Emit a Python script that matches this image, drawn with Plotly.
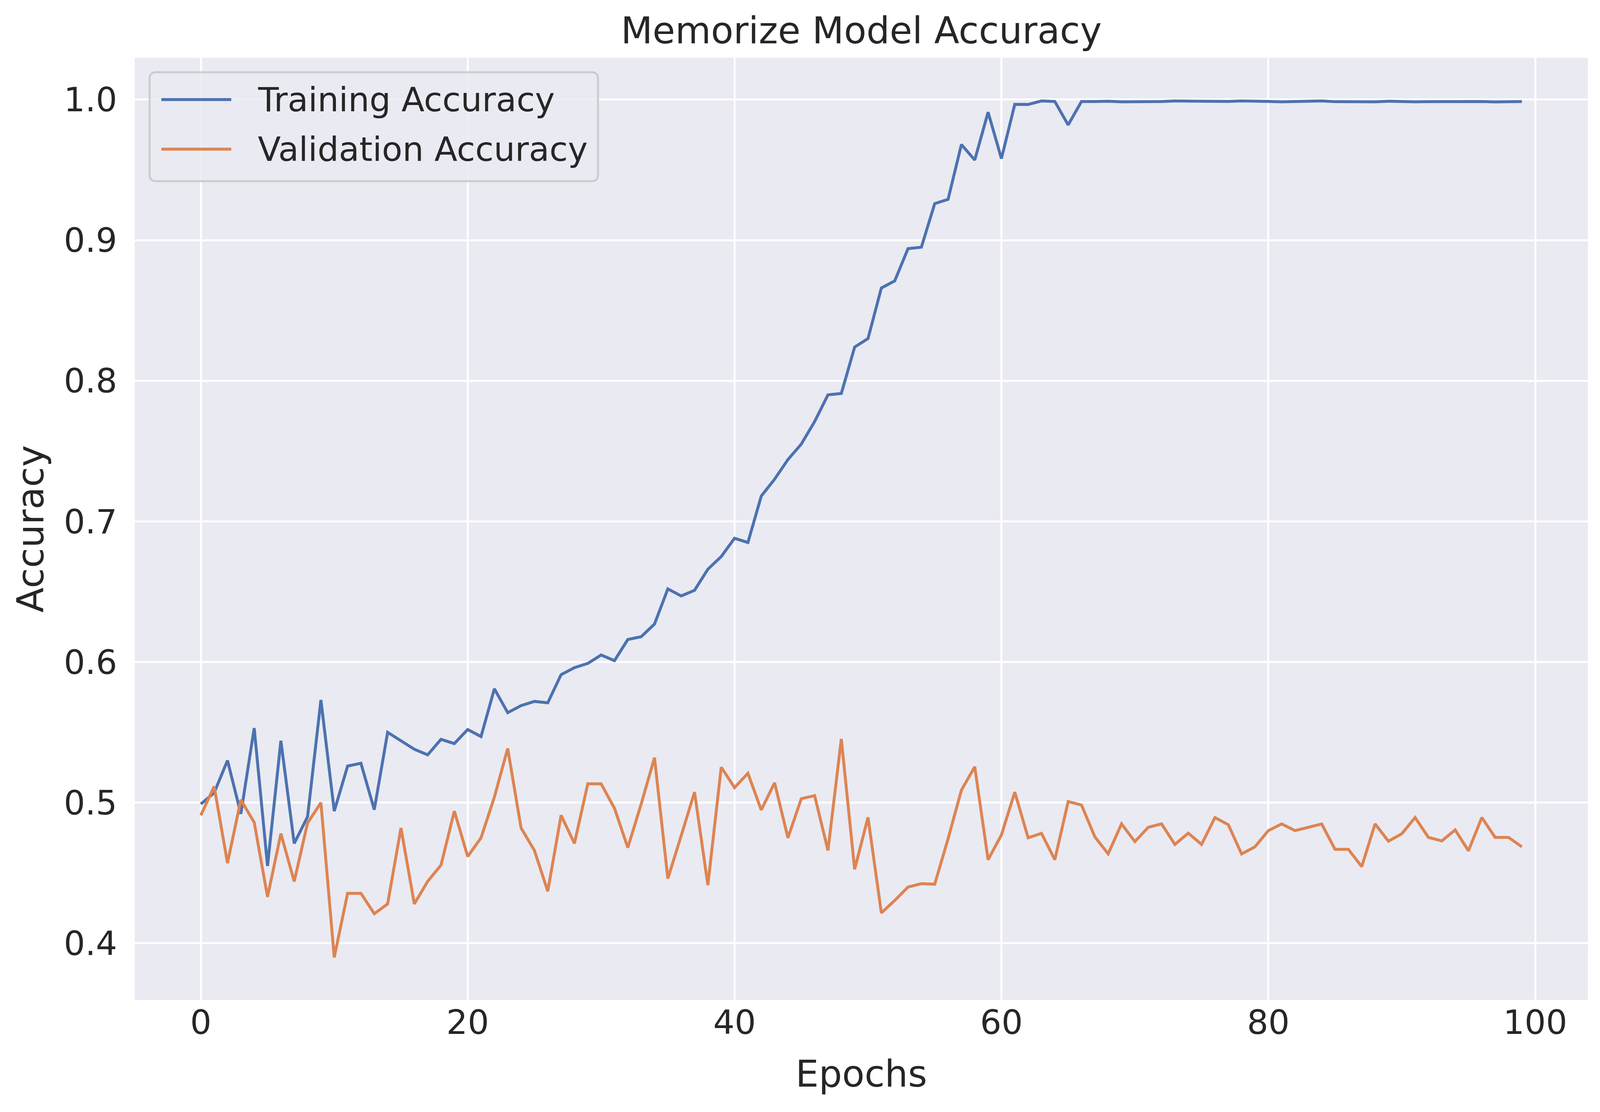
import plotly.graph_objects as go

# accuracy per epoch
epochs = list(range(100))

train_acc = [
    0.499, 0.507, 0.530, 0.492, 0.553, 0.455, 0.544, 0.471, 0.490, 0.573,
    0.494, 0.526, 0.528, 0.495, 0.550, 0.544, 0.538, 0.534, 0.545, 0.542,
    0.552, 0.547, 0.581, 0.564, 0.569, 0.572, 0.571, 0.591, 0.596, 0.599,
    0.605, 0.601, 0.616, 0.618, 0.627, 0.652, 0.647, 0.651, 0.666, 0.675,
    0.688, 0.685, 0.718, 0.730, 0.744, 0.755, 0.771, 0.790, 0.791, 0.824,
    0.830, 0.866, 0.871, 0.894, 0.895, 0.926, 0.929, 0.968, 0.957, 0.991,
    0.958, 0.9966, 0.9965, 0.9990, 0.9986, 0.982, 0.9986, 0.9986, 0.9988, 0.9984,
    0.9984, 0.9984, 0.9986, 0.9990, 0.9988, 0.9987, 0.9985, 0.9987, 0.9990, 0.9990,
    0.9987, 0.9984, 0.9985, 0.9986, 0.9990, 0.9985, 0.9984, 0.9984, 0.9984, 0.9988,
    0.9984, 0.9984, 0.9985, 0.9986, 0.9986, 0.9986, 0.9986, 0.9983, 0.9985, 0.9986,
]

val_acc = [
    0.491, 0.5115, 0.457, 0.502, 0.486, 0.433, 0.478, 0.444, 0.4855, 0.500,
    0.390, 0.4355, 0.4355, 0.421, 0.428, 0.482, 0.428, 0.444, 0.4556, 0.494,
    0.4617, 0.475, 0.504, 0.5385, 0.482, 0.466, 0.437, 0.491, 0.471, 0.5134,
    0.5134, 0.496, 0.468, 0.499, 0.532, 0.446, 0.4765, 0.5075, 0.4414, 0.5252,
    0.5107, 0.5209, 0.4948, 0.5141, 0.475, 0.5028, 0.505, 0.466, 0.5453, 0.4526,
    0.4895, 0.4216, 0.4304, 0.440, 0.4424, 0.442, 0.4743, 0.5089, 0.5255, 0.4594,
    0.4771, 0.5075, 0.475, 0.4782, 0.4594, 0.5008, 0.4983, 0.4757, 0.4636, 0.4849,
    0.4723, 0.4825, 0.4849, 0.4703, 0.4783, 0.4703, 0.4894, 0.4843, 0.4635, 0.4686,
    0.4801, 0.4849, 0.4801, 0.4825, 0.4848, 0.4668, 0.4668, 0.4545, 0.4849, 0.4726,
    0.4778, 0.4894, 0.4753, 0.4728, 0.4806, 0.4658, 0.4894, 0.4753, 0.4753, 0.4686,
]

series_names = ["Training Accuracy", "Validation Accuracy"]
colors = ["#4C72B0", "#DD8452"]
txt = "#262626"
font = "DejaVu Sans"

fig = go.Figure()
for name, ys, c in zip(series_names, [train_acc, val_acc], colors):
    fig.add_trace(go.Scatter(x=epochs, y=ys, mode="lines", name=name,
                             line=dict(color=c, width=7.5), showlegend=False))

# matplotlib style legend box (rounded, upper left)
lx0, lx1, ly0, ly1 = 0.0102, 0.3188, 0.869, 0.9847
rx, ry = 0.0046, 0.007
box = (f"M{lx0+rx},{ly0} L{lx1-rx},{ly0} Q{lx1},{ly0} {lx1},{ly0+ry} "
       f"L{lx1},{ly1-ry} Q{lx1},{ly1} {lx1-rx},{ly1} L{lx0+rx},{ly1} "
       f"Q{lx0},{ly1} {lx0},{ly1-ry} L{lx0},{ly0+ry} Q{lx0},{ly0} {lx0+rx},{ly0} Z")
shapes = [dict(type="path", path=box, xref="paper", yref="paper",
               fillcolor="rgba(234,234,242,0.8)", line=dict(color="#cccccc", width=5))]
annotations = []
rows = [0.9557, 0.903]
for name, c, yy in zip(series_names, colors, rows):
    shapes.append(dict(type="line", xref="paper", yref="paper", x0=0.0183, x1=0.0664,
                       y0=yy, y1=yy, line=dict(color=c, width=7.5)))
    annotations.append(dict(text=name, xref="paper", yref="paper", x=0.0841, y=yy,
                            xanchor="left", yanchor="middle", showarrow=False,
                            font=dict(size=86, color=txt, family=font)))

fig.update_layout(
    width=4100, height=2848, autosize=False,
    margin=dict(l=345, r=35, t=148, b=287),
    paper_bgcolor="white", plot_bgcolor="#EAEAF2",
    font=dict(family=font, size=86, color=txt),
    title=dict(text="Memorize Model Accuracy", x=0.5, xref="paper", xanchor="center",
               y=0.961, yref="container", yanchor="bottom",
               font=dict(size=94, color=txt, family=font)),
    shapes=shapes, annotations=annotations,
)
fig.update_xaxes(range=[-4.95, 103.95], tickmode="linear", tick0=0, dtick=20,
                 showgrid=True, gridcolor="white", gridwidth=5, zeroline=False,
                 showline=False, ticks="", ticklabelstandoff=0,
                 title=dict(text="Epochs", font=dict(size=94), standoff=50))
fig.update_yaxes(range=[0.3597, 1.0297], tickmode="linear", tick0=0.4, dtick=0.1,
                 tickformat=".1f", showgrid=True, gridcolor="white", gridwidth=5,
                 zeroline=False, showline=False, ticks="", ticklabelstandoff=44,
                 title=dict(text="Accuracy", font=dict(size=94), standoff=20))

fig.write_html("out.html", config={"displayModeBar": False},
               post_script="document.body.style.margin='0';")
